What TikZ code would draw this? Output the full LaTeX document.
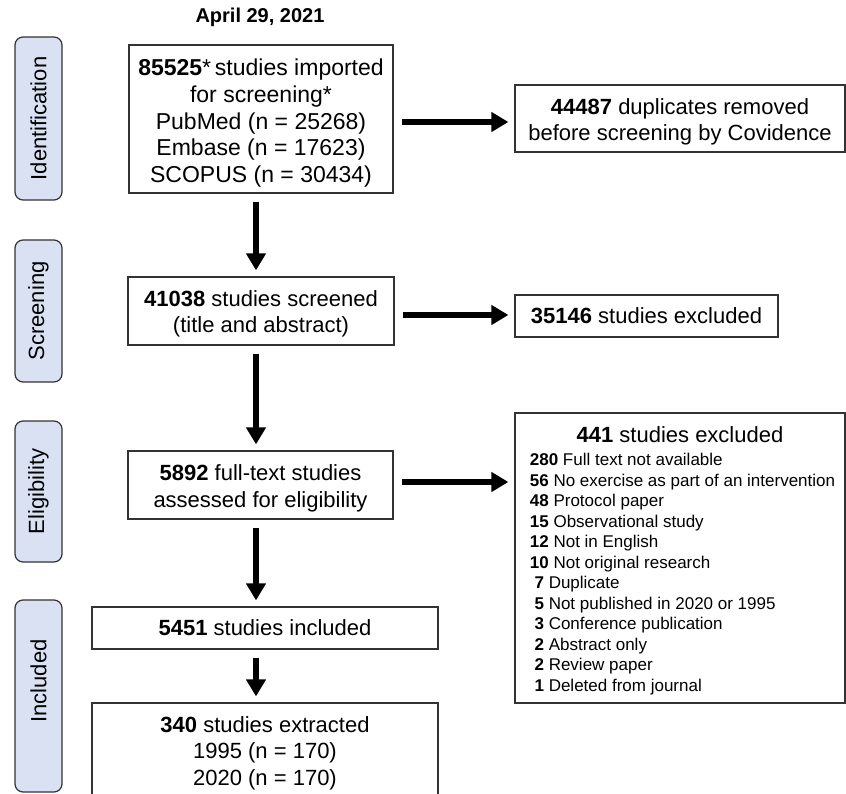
\documentclass[tikz,border=0pt]{standalone}
\usepackage{fontspec}
\setmainfont{Liberation Sans}
\usetikzlibrary{arrows.meta,shapes.geometric}
\definecolor{stagebg}{RGB}{218,225,243}
\newcommand{\topgap}[1]{\rule{0pt}{#1}}

\begin{document}
\begin{tikzpicture}[x=1pt,y=1pt]
\tikzstyle{stage} = [rectangle, draw=black!80, line width=1.2pt, fill=stagebg,
rounded corners=8pt, rotate=90, minimum height=47pt, inner sep=0pt,
font=\fontsize{22}{26}\selectfont]
\tikzstyle{block} = [rectangle, draw=black!80, line width=1.2pt, fill=white,
align=center, inner sep=0pt, font=\fontsize{22}{26.5}\selectfont]
\tikzstyle{reasons} = [rectangle, draw=black!80, line width=1.2pt, fill=white,
inner sep=0pt, minimum width=330pt, minimum height=290pt,
font=\fontsize{17}{20.5}\selectfont]
\tikzstyle{line} = [draw, line width=5.5pt, shorten <=8pt, shorten >=6pt,
-{Triangle[length=17pt,width=19pt]}]
\clip (0,0) rectangle (846,-794);

% stages
\node [stage, minimum width=163pt] (ident) at (38.5,-118.5) {Identification};
\node [stage, minimum width=142pt] (screenlab) at (38.5,-311) {Screening};
\node [stage, minimum width=141pt] (eliglab) at (38.5,-491.5) {Eligibility};
\node [stage, minimum width=192pt] (incllab) at (38.5,-696) {\hspace*{30pt}Included};

% flow
\node [font=\bfseries\fontsize{20}{24}\selectfont] (date) at (260,-17) {April 29, 2021};
\node [block, minimum width=264pt, minimum height=148pt,
font=\fontsize{23}{26.7}\selectfont] (import) at (261,-119)
{\topgap{25pt}\textbf{85525}*\,studies imported\\ for screening*\\ PubMed (n = 25268)\\
Embase (n = 17623)\\ SCOPUS (n = 30434)};
\node [block, minimum width=266pt, minimum height=68pt] (screen) at (261,-311)
{\topgap{22pt}\textbf{41038} studies screened\\ (title and abstract)};
\node [block, minimum width=265pt, minimum height=68pt] (elig) at (260.5,-485)
{\topgap{23pt}\textbf{5892} full-text studies\\ assessed for eligibility};
\node [block, minimum width=346pt, minimum height=42pt] (incl) at (265,-628)
{\textbf{5451} studies included};
\node [block, minimum width=346pt, minimum height=100pt] (extract) at (265,-753)
{\textbf{340} studies extracted\\ 1995 (n = 170)\\ 2020 (n = 170)};

% excluded
\node [block, minimum width=330pt, minimum height=67pt] (dupl) at (680,-118.5)
{\topgap{23pt}\textbf{44487} duplicates removed\\ before screening by Covidence};
\node [block, minimum width=263pt, minimum height=42pt] (excl) at (646.5,-316)
{\textbf{35146} studies excluded};
\node [reasons] (reasons) at (680,-558)
{\begin{tabular}{@{\hspace{5pt}}l@{}}
\multicolumn{1}{c}{\topgap{24pt}\fontsize{22}{26}\selectfont\textbf{441} studies excluded}\\[3pt]
\textbf{280} Full text not available\\
\textbf{56} No exercise as part of an intervention\\
\textbf{48} Protocol paper\\
\textbf{15} Observational study\\
\textbf{12} Not in English\\
\textbf{10} Not original research\\
\hspace*{4.7pt}\textbf{7} Duplicate\\
\hspace*{4.7pt}\textbf{5} Not published in 2020 or 1995\\
\hspace*{4.7pt}\textbf{3} Conference publication\\
\hspace*{4.7pt}\textbf{2} Abstract only\\
\hspace*{4.7pt}\textbf{2} Review paper\\
\hspace*{4.7pt}\textbf{1} Deleted from journal
\end{tabular}};

\tikzstyle{every path}=[line]
\path ([xshift=-5pt]import.south) -- ([xshift=-5pt]import.south |- screen.north);
\path ([xshift=-5pt]screen.south) -- ([xshift=-5pt]screen.south |- elig.north);
\path ([xshift=-4.5pt]elig.south) -- ([xshift=-4.5pt]elig.south |- incl.north);
\path ([xshift=-9pt]incl.south) -- ([xshift=-9pt]incl.south |- extract.north);
\path ([yshift=-3pt]import.east) -- ([yshift=-3pt]import.east -| dupl.west);
\path ([yshift=-4pt]screen.east) -- ([yshift=-4pt]screen.east -| excl.west);
\path ([yshift=3pt]elig.east) -- ([yshift=3pt]elig.east -| reasons.west);
\end{tikzpicture}
\end{document}
